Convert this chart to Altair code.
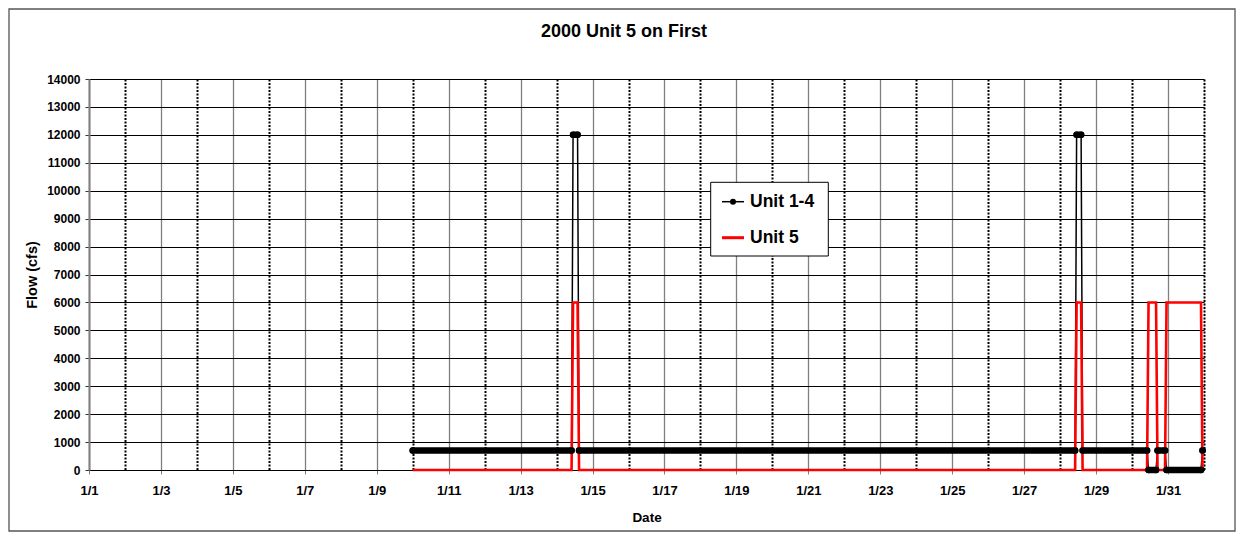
import altair as alt
import pandas as pd

title_text = "2000 Unit 5 on First"
x_title = "Date"
y_title = "Flow (cfs)"
series_names = ["Unit 1-4", "Unit 5"]

# change points of the hourly series (values held constant between them)
times = [
    "2000-01-10T00:00:00Z", "2000-01-14T10:00:00Z", "2000-01-14T11:00:00Z",
    "2000-01-14T14:00:00Z", "2000-01-14T15:00:00Z", "2000-01-28T10:00:00Z",
    "2000-01-28T11:00:00Z", "2000-01-28T14:00:00Z", "2000-01-28T15:00:00Z",
    "2000-01-30T10:00:00Z", "2000-01-30T11:00:00Z", "2000-01-30T16:00:00Z",
    "2000-01-30T17:00:00Z", "2000-01-30T22:00:00Z", "2000-01-30T23:00:00Z",
    "2000-01-31T22:00:00Z", "2000-01-31T23:00:00Z",
]
unit14 = [700, 700, 12000, 12000, 700, 700, 12000, 12000, 700,
          700, 0, 0, 700, 700, 0, 0, 700]
unit5 = [0, 0, 6000, 6000, 0, 0, 6000, 6000, 0,
         0, 6000, 6000, 0, 0, 6000, 6000, 0]

y_ticks = [0, 1000, 2000, 3000, 4000, 5000, 6000, 7000, 8000, 9000,
           10000, 11000, 12000, 13000, 14000]
x_tick_days = list(range(1, 32))

df = pd.DataFrame({"time": times, "u14": unit14, "u5": unit5})
df["run14"] = (df["u14"] != df["u14"].shift()).cumsum()

FONT = "Liberation Sans"
minor_test = "utcdate(datum.value) % 2 == 0 || utcmonth(datum.value) == 1"

day_ticks = [alt.DateTime(year=2000, month=1, date=d, utc=True) for d in x_tick_days] + \
            [alt.DateTime(year=2000, month=2, date=1, utc=True)]

x_axis = alt.Axis(
    values=day_ticks,
    title=x_title,
    labelExpr="(utcdate(datum.value) % 2 == 1 && utcmonth(datum.value) == 0) ? utcFormat(datum.value, '%-m/%-d') : ''",
    labelOverlap=False,
    labelFlush=False,
    labelFont=FONT, labelFontSize=13, labelFontWeight="bold", labelColor="black",
    labelPadding=10, labelBaseline="top",
    tickSize=4, tickColor="#808080",
    tickOpacity={"condition": {"test": minor_test, "value": 0}, "value": 1},
    grid=True,
    gridColor={"condition": {"test": minor_test, "value": "black"}, "value": "#808080"},
    gridDash={"condition": {"test": minor_test, "value": [2, 1.5]}, "value": []},
    gridWidth={"condition": {"test": minor_test, "value": 2}, "value": 1.3},
    domainColor="black", domainWidth=1,
    titleFont=FONT, titleFontSize=13.5, titleFontWeight="bold", titleColor="black",
    titleBaseline="alphabetic", titleY=51,
)

y_axis = alt.Axis(
    values=y_ticks,
    title=y_title,
    format="d",
    labelFont=FONT, labelFontSize=12, labelFontWeight="bold", labelColor="black",
    labelPadding=5,
    tickSize=4, tickColor="#333333",
    grid=True, gridColor="black", gridWidth=1,
    domainColor="#808080", domainWidth=2,
    titleFont=FONT, titleFontSize=14.5, titleFontWeight="bold", titleColor="black",
    titleAngle=270, titleBaseline="alphabetic", titleAlign="center",
    titleX=-53, titleY=195.5,
)

x_scale = alt.Scale(type="utc",
                    domain=[alt.DateTime(year=2000, month=1, date=1, utc=True),
                            alt.DateTime(year=2000, month=2, date=1, utc=True)],
                    nice=False)
y_scale = alt.Scale(domain=[0, 14000], nice=False, zero=True)

X = alt.X("time:T", scale=x_scale, axis=x_axis)

base = alt.Chart(df)

black_line = base.mark_line(color="black", strokeWidth=1.5).encode(
    x=X, y=alt.Y("u14:Q", scale=y_scale, axis=y_axis))
red_line = base.mark_line(color="#ff0000", strokeWidth=2.6).encode(
    x=X, y=alt.Y("u5:Q", scale=y_scale, axis=y_axis))
band = base.mark_line(color="black", strokeWidth=6.5, strokeCap="round").encode(
    x=X, y=alt.Y("u14:Q", scale=y_scale, axis=y_axis), detail="run14:N")
dots = base.mark_circle(color="black", size=42, opacity=1).encode(
    x=X, y=alt.Y("u14:Q", scale=y_scale, axis=y_axis))

one = alt.Chart(pd.DataFrame({"k": [0]}))

frame = one.mark_rect(fillOpacity=0, stroke="#555555", strokeWidth=1.3).encode(
    x=alt.value(-80), x2=alt.value(1146), y=alt.value(-70), y2=alt.value(452))

title = one.mark_text(align="center", baseline="alphabetic", font=FONT, fontSize=18,
                      fontWeight="bold", color="black").encode(
    x=alt.value(535), y=alt.value(-42.3), text=alt.value(title_text))

leg_box = one.mark_rect(fill="white", stroke="black", strokeWidth=1).encode(
    x=alt.value(621.7), x2=alt.value(739.3), y=alt.value(103.3), y2=alt.value(177))
leg_l1 = one.mark_rule(color="black", strokeWidth=1.5).encode(
    x=alt.value(633), x2=alt.value(655), y=alt.value(122.7))
leg_d1 = one.mark_circle(color="black", size=36, opacity=1).encode(
    x=alt.value(644), y=alt.value(122.7))
leg_l2 = one.mark_rule(color="#ff0000", strokeWidth=3).encode(
    x=alt.value(633), x2=alt.value(655), y=alt.value(158.7))
leg_t1 = one.mark_text(align="left", baseline="middle", font=FONT, fontSize=17.5,
                       fontWeight="bold", color="black").encode(
    x=alt.value(661), y=alt.value(122.7), text=alt.value(series_names[0]))
leg_t2 = one.mark_text(align="left", baseline="middle", font=FONT, fontSize=17.5,
                       fontWeight="bold", color="black").encode(
    x=alt.value(661), y=alt.value(158.7), text=alt.value(series_names[1]))

chart = alt.layer(
    black_line, red_line, band, dots, frame, title,
    leg_box, leg_l1, leg_d1, leg_l2, leg_t1, leg_t2,
).properties(
    width=1115, height=391,
    padding={"left": 81, "top": 71, "right": 32, "bottom": 62},
    autosize=alt.AutoSizeParams(type="none"),
    background="white",
).configure_view(stroke=None).configure(font=FONT)

chart.save("out.html", embed_options={"renderer": "svg", "actions": False})
